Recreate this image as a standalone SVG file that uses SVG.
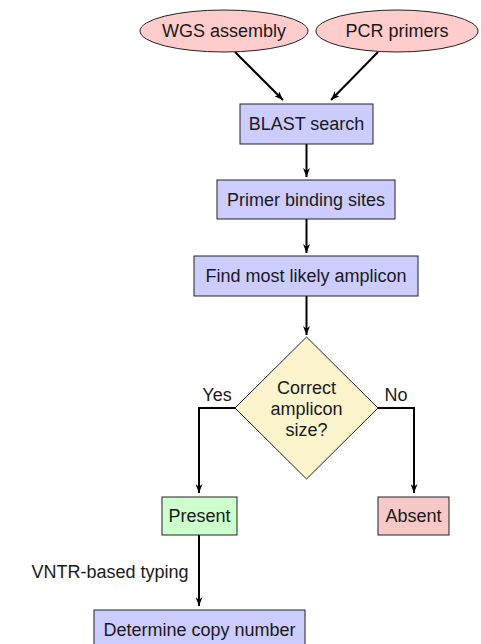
<svg xmlns="http://www.w3.org/2000/svg" width="481" height="644" viewBox="0 0 481 644">
<defs>
<marker id="arr" viewBox="0 0 10 10" refX="10" refY="5" markerWidth="9" markerHeight="7" orient="auto" markerUnits="userSpaceOnUse" preserveAspectRatio="none">
<path d="M0,0 L10,5 L0,10 L3,5 Z" fill="#000"/>
</marker>
<style>
text{font-family:"Liberation Sans",Arial,sans-serif;font-size:18px;fill:#1a1a1a;text-anchor:middle}
.box{fill:#ccccff;stroke:#222;stroke-width:1}
.ell{fill:#ffcccc;stroke:#222;stroke-width:1}
.dia{fill:#fcf4cc;stroke:#222;stroke-width:1}
.yes{fill:#ccffcc;stroke:#222;stroke-width:1}
.no{fill:#f6c8c8;stroke:#222;stroke-width:1}
.c{fill:none;stroke:#000;stroke-width:2;marker-end:url(#arr)}
</style>
</defs>
<rect width="481" height="644" fill="#fff"/>
<g id="connectors">
<path class="c" d="M235,52 L283,100"/>
<path class="c" d="M378,52 L331,100"/>
<path class="c" d="M306.5,144 L306.5,177"/>
<path class="c" d="M306.5,219 L306.5,253"/>
<path class="c" d="M306.5,296 L306.5,335"/>
<path class="c" d="M235,408 L199,408 L199,493"/>
<path class="c" d="M378,408 L414,408 L414,493"/>
<path class="c" d="M199,535 L199,606"/>
<text x="217" y="401">Yes</text>
<text x="396" y="401">No</text>
<text x="110" y="578">VNTR-based typing</text>
</g>
<g id="wgs"><ellipse class="ell" cx="224" cy="31" rx="84" ry="21"/><text x="224" y="37">WGS assembly</text></g>
<g id="pcr"><ellipse class="ell" cx="397" cy="31" rx="81" ry="21"/><text x="397" y="37">PCR primers</text></g>
<g id="blast"><rect class="box" x="240" y="104" width="133" height="40"/><text x="306.5" y="130">BLAST search</text></g>
<g id="sites"><rect class="box" x="217" y="180" width="178" height="39"/><text x="306" y="206">Primer binding sites</text></g>
<g id="amplicon"><rect class="box" x="194" y="256" width="224" height="40"/><text x="306" y="282">Find most likely amplicon</text></g>
<g id="decision"><polygon class="dia" points="306.5,337 378,408 306.5,479 235,408"/>
<text x="306.5" y="394">Correct</text><text x="306.5" y="415">amplicon</text><text x="306.5" y="436">size?</text></g>
<g id="present"><rect class="yes" x="162" y="497" width="75" height="38"/><text x="199.5" y="522">Present</text></g>
<g id="absent"><rect class="no" x="378" y="497" width="71" height="38"/><text x="413.5" y="522">Absent</text></g>
<g id="copy"><rect class="box" x="94" y="610" width="211" height="40"/><text x="199.5" y="636">Determine copy number</text></g>
</svg>
